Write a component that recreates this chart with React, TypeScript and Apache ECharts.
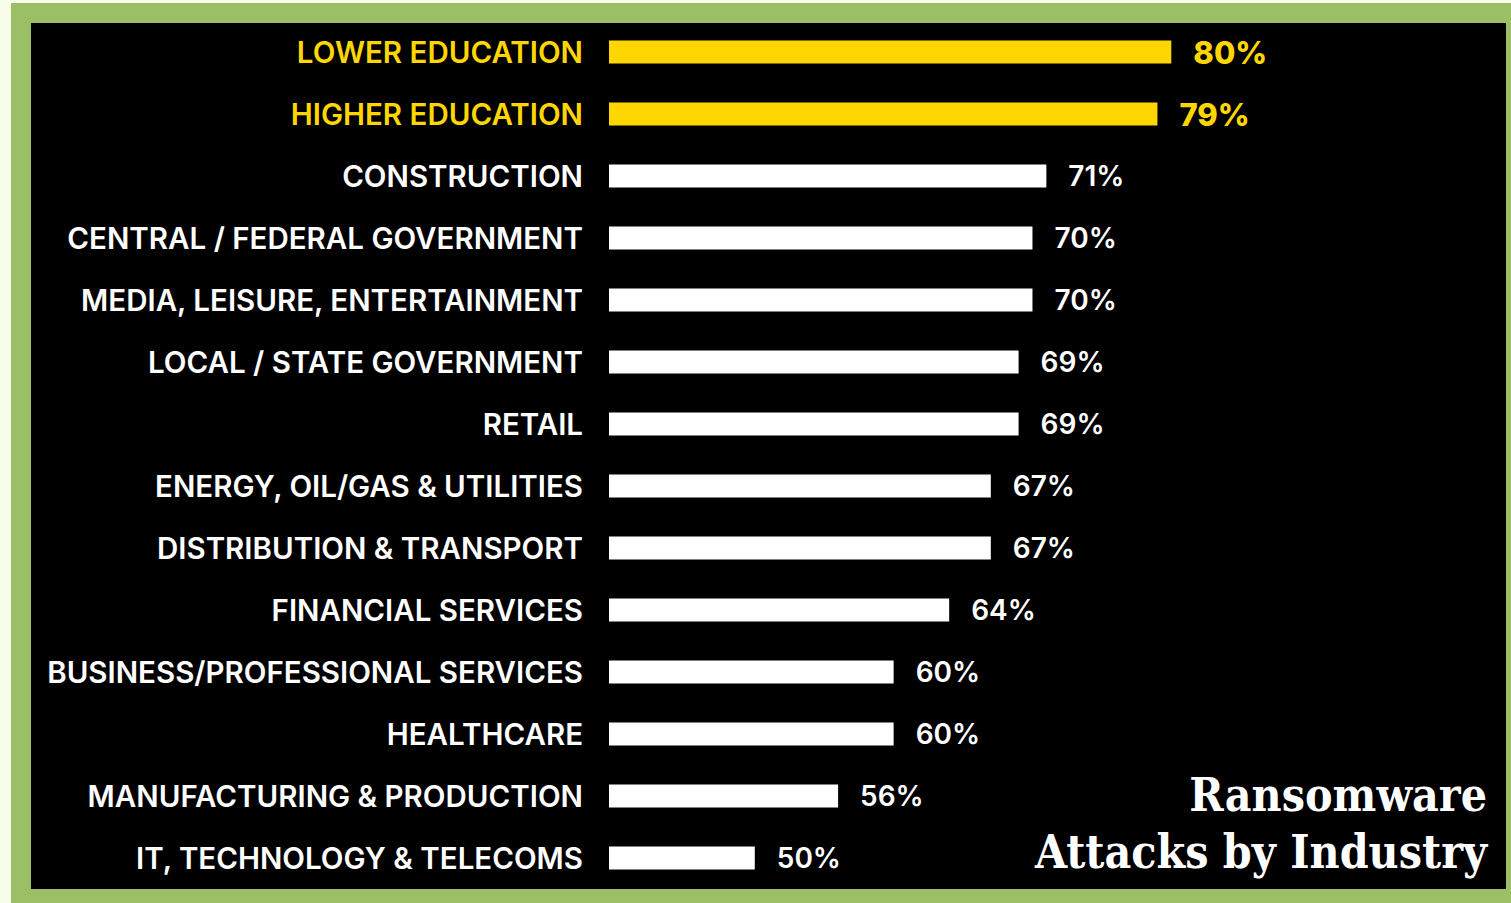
import React, { useEffect, useRef } from "react";
import * as echarts from "echarts";

const categories = [
  "LOWER EDUCATION",
  "HIGHER EDUCATION",
  "CONSTRUCTION",
  "CENTRAL / FEDERAL GOVERNMENT",
  "MEDIA, LEISURE, ENTERTAINMENT",
  "LOCAL / STATE GOVERNMENT",
  "RETAIL",
  "ENERGY, OIL/GAS & UTILITIES",
  "DISTRIBUTION & TRANSPORT",
  "FINANCIAL SERVICES",
  "BUSINESS/PROFESSIONAL SERVICES",
  "HEALTHCARE",
  "MANUFACTURING & PRODUCTION",
  "IT, TECHNOLOGY & TELECOMS",
];

const values = [80, 79, 71, 70, 70, 69, 69, 67, 67, 64, 60, 60, 56, 50];

const highlighted = ["LOWER EDUCATION", "HIGHER EDUCATION"];

const titleLines = ["Ransomware", "Attacks by Industry"];

const YELLOW = "#FFD600";
const WHITE = "#FFFFFF";
const FONT = "Inter, 'Noto Sans', sans-serif";
const TITLE_FONT = "bold 46px 'DejaVu Serif Condensed', 'DejaVu Serif', serif";

export default function App() {
  const ref = useRef<HTMLDivElement>(null);

  useEffect(() => {
    if (!ref.current) return;
    const chart = echarts.init(ref.current, undefined, { renderer: "svg" });

    const data = values.map((v, i) => {
      const hi = highlighted.includes(categories[i]);
      return {
        value: v,
        itemStyle: { color: hi ? YELLOW : WHITE },
        label: {
          color: hi ? YELLOW : WHITE,
          fontWeight: hi ? 800 : 600,
          fontSize: hi ? 31 : 28,
        },
      };
    });

    chart.setOption({
      animation: false,
      backgroundColor: "#F7FDE9",
      graphic: [
        {
          type: "rect",
          z: -10,
          shape: { x: 11, y: 3, width: 1500, height: 900 },
          style: { fill: "#9BBF65" },
          silent: true,
        },
        {
          type: "rect",
          z: -9,
          shape: { x: 31, y: 23, width: 1475, height: 866 },
          style: { fill: "#000000" },
          silent: true,
        },
        {
          type: "text",
          z: 10,
          x: 1487,
          y: 795,
          style: {
            text: titleLines[0],
            fill: WHITE,
            font: TITLE_FONT,
            align: "right",
            verticalAlign: "middle",
          },
        },
        {
          type: "text",
          z: 10,
          x: 1487,
          y: 852,
          style: {
            text: titleLines[1],
            fill: WHITE,
            font: TITLE_FONT,
            align: "right",
            verticalAlign: "middle",
          },
        },
      ],
      grid: {
        left: 609,
        right: 62,
        top: 21,
        bottom: 14,
        containLabel: false,
      },
      xAxis: {
        type: "value",
        min: 39.5,
        max: 100,
        show: false,
        splitLine: { show: false },
      },
      yAxis: {
        type: "category",
        data: categories,
        inverse: true,
        axisLine: { show: false },
        axisTick: { show: false },
        splitLine: { show: false },
        axisLabel: {
          margin: 26,
          fontFamily: FONT,
          fontWeight: 600,
          fontSize: 29.5,
          color: (val: string) => (highlighted.includes(val) ? YELLOW : WHITE),
        },
      },
      series: [
        {
          type: "bar",
          data,
          barWidth: 23,
          label: {
            show: true,
            position: "right",
            distance: 22,
            formatter: "{c}%",
            fontFamily: FONT,
          },
        },
      ],
    });

    return () => chart.dispose();
  }, []);

  return (
    <div
      ref={ref}
      style={{ position: "fixed", left: 0, top: 0, width: 1511, height: 903 }}
    />
  );
}
